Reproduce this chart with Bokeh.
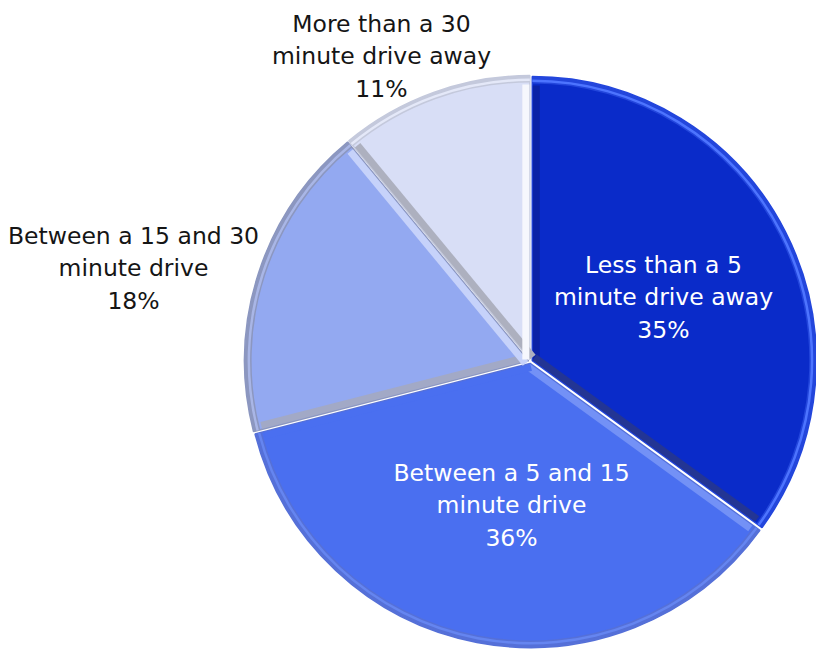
import math
from bokeh.plotting import figure
from bokeh.models import Range1d
from bokeh.core.properties import value
from bokeh.embed import file_html
from bokeh.resources import INLINE

# Travel time to the nearest store, share of respondents (%)
categories = [
    "Less than a 5 minute drive away",
    "Between a 5 and 15 minute drive",
    "Between a 15 and 30 minute drive",
    "More than a 30 minute drive away",
]
shares = [35, 36, 18, 11]
label_lines = [
    ["Less than a 5", "minute drive away"],
    ["Between a 5 and 15", "minute drive"],
    ["Between a 15 and 30", "minute drive"],
    ["More than a 30", "minute drive away"],
]

# slice styling: fill, outer rim, rim highlight, start-edge bevel, end-edge bevel
fills = ["#0a2bc9", "#4a6ff0", "#93a9f1", "#d8def6"]
rims = ["#2346dc", "#5570d8", "#8c97c0", "#c4c9dc"]
rim_lights = ["#4d74ff", "#6585f0", "#a9b6e6", "#e4e8f8"]
start_bevels = ["#0b22a6", "#7391f6", "#a2a9c6", "#adb0bf"]
end_bevels = ["#233594", "#4a6ff0", "#c6d2fa", "#f6f7fd"]
label_colors = ["white", "white", "#151515", "#151515"]
# label block centres in page pixels (x, y from top)
label_pos = [(663, 297), (511, 505), (133, 268), (381, 56)]

W, H = 816, 652
cx, cy = 530, H - 361
R = 284
explode = 2
rim_w = 7

p = figure(width=W, height=H, x_range=Range1d(0, W), y_range=Range1d(0, H),
           output_backend="svg", toolbar_location=None, min_border=0)
p.axis.visible = False
p.grid.visible = False
p.outline_line_color = None
p.background_fill_color = "white"
p.border_fill_color = "white"

total = sum(shares)
cum = 0.0
for i, s in enumerate(shares):
    a0 = math.radians(90 - 360 * cum / total)          # start (top, going clockwise)
    a1 = math.radians(90 - 360 * (cum + s) / total)
    cum += s
    mid = (a0 + a1) / 2
    x0 = cx + explode * math.cos(mid)
    y0 = cy + explode * math.sin(mid)

    # body of the slice
    p.wedge(x=x0, y=y0, radius=R, start_angle=a1, end_angle=a0,
            fill_color=fills[i], line_color=rims[i], line_width=1.5)
    # bevelled outer rim
    p.annular_wedge(x=x0, y=y0, inner_radius=R - rim_w, outer_radius=R,
                    start_angle=a1, end_angle=a0, fill_color=rims[i], line_color=None)
    p.annular_wedge(x=x0, y=y0, inner_radius=R - rim_w + 1.5, outer_radius=R - rim_w + 4,
                    start_angle=a1, end_angle=a0, fill_color=rim_lights[i], line_color=None)

    # bevel along the two straight edges (thin stripes just inside each edge)
    for ang, col, sign in ((a0, start_bevels[i], -1), (a1, end_bevels[i], 1)):
        off = 4
        nx = math.cos(ang + sign * math.pi / 2) * off
        ny = math.sin(ang + sign * math.pi / 2) * off
        p.ray(x=x0 + nx, y=y0 + ny, length=R - rim_w - 2, angle=ang,
              line_color=col, line_width=7)

    lines = label_lines[i] + [f"{s}%"]
    lx, ly = label_pos[i]
    p.text(x=lx, y=H - ly, text=["\n".join(lines)],
           text_align="center", text_baseline="middle",
           text_font=value("DejaVu Sans"), text_font_size="23.5px",
           text_line_height=1.16, text_color=label_colors[i])

open("out.html", "w").write(file_html(p, INLINE))
